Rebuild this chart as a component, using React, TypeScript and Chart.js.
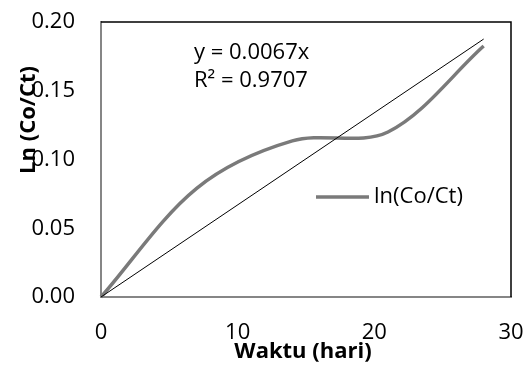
import React, { useEffect, useRef } from "react";
import { Chart, registerables } from "chart.js";

Chart.register(...registerables);

// ---- data ----
const DAYS = [0, 7, 14, 21, 28];
const LN_CO_CT = [0, 0.079, 0.1135, 0.12, 0.1825];
const X_TICKS = [0, 10, 20, 30];
const Y_TICKS = [0, 0.05, 0.1, 0.15, 0.2];
const TREND_SLOPE = 0.0067;
const TREND_R2 = 0.9707;
const SERIES_LABEL = "ln(Co/Ct)";
const X_TITLE = "Waktu (hari)";
const Y_TITLE = "Ln (Co/Ct)";

const FONT = "'Open Sans', sans-serif";
const SERIES_COLOR = "#7a7a7a";
const AXIS_COLOR = "#868686";

const overlayPlugin = {
  id: "overlay",
  beforeDatasetsDraw(chart: any) {
    const { ctx, chartArea: a } = chart;
    ctx.save();
    ctx.strokeStyle = "#000";
    ctx.lineWidth = 1.5;
    ctx.beginPath();
    ctx.moveTo(a.left, a.top);
    ctx.lineTo(a.right, a.top);
    ctx.lineTo(a.right, a.bottom);
    ctx.stroke();
    ctx.restore();
  },
  afterDraw(chart: any) {
    const { ctx, chartArea: a } = chart;
    ctx.save();
    ctx.fillStyle = "#000";
    // trendline equation
    ctx.font = `22px ${FONT}`;
    ctx.textAlign = "left";
    ctx.textBaseline = "middle";
    ctx.fillText(`y = ${TREND_SLOPE}x`, a.left + 93, a.top + 31);
    ctx.fillText(`R² = ${TREND_R2}`, a.left + 93, a.top + 59);
    // legend
    const ly = a.top + 175;
    ctx.strokeStyle = SERIES_COLOR;
    ctx.lineWidth = 3.5;
    ctx.beginPath();
    ctx.moveTo(a.left + 215, ly);
    ctx.lineTo(a.left + 268, ly);
    ctx.stroke();
    ctx.fillText(SERIES_LABEL, a.left + 273, ly);
    // axis titles
    ctx.font = `bold 22px ${FONT}`;
    ctx.textAlign = "center";
    ctx.fillText(X_TITLE, (a.left + a.right) / 2 - 3, a.bottom + 55);
    ctx.translate(a.left - 72, a.top + 98);
    ctx.rotate(-Math.PI / 2);
    ctx.fillText(Y_TITLE, 0, 0);
    ctx.restore();
  },
};

export default function App() {
  const ref = useRef<HTMLCanvasElement>(null);
  useEffect(() => {
    const last = DAYS[DAYS.length - 1];
    const chart = new Chart(ref.current as HTMLCanvasElement, {
      type: "line",
      data: {
        datasets: [
          {
            label: "Linear (" + SERIES_LABEL + ")",
            data: [
              { x: DAYS[0], y: TREND_SLOPE * DAYS[0] },
              { x: last, y: TREND_SLOPE * last },
            ],
            borderColor: "#000",
            borderWidth: 1,
            pointRadius: 0,
            tension: 0,
            order: 0,
            clip: false as any,
          },
          {
            label: SERIES_LABEL,
            data: DAYS.map((d, i) => ({ x: d, y: LN_CO_CT[i] })),
            borderColor: SERIES_COLOR,
            borderWidth: 3.5,
            pointRadius: 0,
            tension: 0.33,
            order: 1,
            clip: false as any,
          },
        ],
      },
      options: {
        responsive: false,
        animation: false,
        devicePixelRatio: 1,
        layout: { autoPadding: false, padding: { top: 22, right: 18, left: 0, bottom: 0 } },
        plugins: {
          legend: { display: false },
          tooltip: { enabled: false },
          title: { display: false },
        },
        scales: {
          x: {
            type: "linear",
            min: 0,
            max: 30,
            grid: { display: false, drawTicks: false },
            border: { display: true, color: AXIS_COLOR, width: 2 },
            afterBuildTicks: (s: any) => {
              s.ticks = X_TICKS.map((v) => ({ value: v }));
            },
            afterFit: (s: any) => {
              s.height = 70;
              s.paddingLeft = 0;
              s.paddingRight = 0;
            },
            ticks: {
              padding: 23,
              color: "#000",
              font: { family: FONT, size: 22 },
              maxRotation: 0,
              callback: (v: any) => String(v),
            },
          },
          y: {
            type: "linear",
            min: 0,
            max: 0.2,
            grid: { display: false, drawTicks: false },
            border: { display: true, color: AXIS_COLOR, width: 2 },
            afterBuildTicks: (s: any) => {
              s.ticks = Y_TICKS.map((v) => ({ value: v }));
            },
            afterFit: (s: any) => {
              s.width = 101;
              s.paddingTop = 0;
              s.paddingBottom = 0;
            },
            ticks: {
              padding: 26,
              color: "#000",
              font: { family: FONT, size: 22 },
              callback: (v: any) => Number(v).toFixed(2),
            },
          },
        },
      },
      plugins: [overlayPlugin],
    });
    return () => chart.destroy();
  }, []);
  return (
    <div style={{ position: "fixed", left: 0, top: 0, width: 529, height: 367, background: "#fff" }}>
      <canvas ref={ref} width={529} height={367} style={{ display: "block", width: 529, height: 367 }} />
    </div>
  );
}
